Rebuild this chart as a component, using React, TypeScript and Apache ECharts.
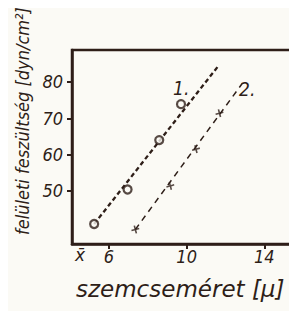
import React, { useEffect, useRef } from "react";
import * as echarts from "echarts";

const xTicks = [6, 10, 14];
const yTicks = [50, 60, 70, 80];
const series1X = [5.24, 6.96, 8.59, 9.71];
const series1Y = [40.9, 50.4, 64.0, 73.9];
const series2X = [7.36, 9.16, 10.48, 11.69];
const series2Y = [39.4, 51.4, 61.5, 71.4];
const fit1 = [[5.24, 40.9], [11.6, 84.2]];
const fit2 = [[7.36, 39.4], [12.85, 79.5]];
const lineLabels = [{ name: "1.", coord: [9.72, 78.3] }, { name: "2.", coord: [13.12, 78.1] }];

const INK = "#2e1e18";
const FONT = "'DejaVu Sans', sans-serif";
const FONT_C = "'DejaVu Sans Condensed', 'DejaVu Sans', sans-serif";

export default function App() {
  const ref = useRef<HTMLDivElement>(null);
  useEffect(() => {
    if (!ref.current) return;
    const chart = echarts.init(ref.current, null, { renderer: "svg" });
    chart.setOption({
      animation: false,
      backgroundColor: "#fbfaf5",
      grid: {
        left: 72,
        top: 50,
        bottom: 67,
        right: 0,
        show: true,
        borderColor: INK,
        borderWidth: 2.5,
        backgroundColor: "transparent",
      },
      xAxis: {
        type: "value",
        min: 4.1,
        max: 18.15,
        splitLine: { show: false },
        axisLine: { show: true, lineStyle: { color: INK, width: 2.5 } },
        axisTick: { show: true, customValues: xTicks, length: 5, inside: false, lineStyle: { color: INK, width: 2 } },
        axisLabel: {
          customValues: xTicks,
          color: INK,
          fontSize: 18,
          fontStyle: "italic",
          fontFamily: FONT_C,
          margin: 3,
        },
        name: "szemcseméret [μ]",
        nameLocation: "start",
        nameGap: 0,
        nameTextStyle: {
          color: INK,
          fontSize: 23,
          fontStyle: "italic",
          fontFamily: FONT,
          align: "left",
          verticalAlign: "top",
          padding: [33, 0, 0, 4],
        },
      },
      yAxis: {
        type: "value",
        min: 35.4,
        max: 88.8,
        splitLine: { show: false },
        axisLine: { show: true, lineStyle: { color: INK, width: 2.5 } },
        axisTick: { show: true, customValues: yTicks, length: 5, inside: false, lineStyle: { color: INK, width: 2 } },
        axisLabel: {
          customValues: yTicks,
          color: INK,
          fontSize: 18,
          fontStyle: "italic",
          fontFamily: FONT_C,
          margin: 9,
        },
      },
      graphic: [
        {
          type: "text",
          left: 75,
          top: 246,
          style: { text: "x\u0304", fill: INK, fontSize: 17, fontStyle: "italic", fontFamily: FONT },
        },
        {
          type: "text",
          x: 22,
          y: 121,
          rotation: Math.PI / 2,
          style: {
            text: "felületi feszültség [dyn/cm²]",
            fill: INK,
            fontSize: 18,
            fontStyle: "italic",
            fontFamily: FONT_C,
            align: "center",
            verticalAlign: "middle",
          },
        },
      ],
      series: [
        {
          type: "line",
          data: fit1,
          symbol: "none",
          lineStyle: { color: INK, width: 2.3, type: [4.5, 3] },
          z: 2,
          markPoint: {
            symbol: "circle",
            symbolSize: 0,
            data: [{ name: lineLabels[0].name, coord: lineLabels[0].coord }],
            label: {
              show: true,
              formatter: "{b}",
              color: INK,
              fontSize: 19,
              fontStyle: "italic",
              fontFamily: FONT_C,
            },
          },
        },
        {
          type: "line",
          data: fit2,
          symbol: "none",
          lineStyle: { color: INK, width: 1.5, type: [6, 5] },
          z: 2,
          markPoint: {
            symbol: "circle",
            symbolSize: 0,
            data: [{ name: lineLabels[1].name, coord: lineLabels[1].coord }],
            label: {
              show: true,
              formatter: "{b}",
              color: INK,
              fontSize: 19,
              fontStyle: "italic",
              fontFamily: FONT_C,
            },
          },
        },
        {
          type: "scatter",
          data: series1X.map((x, i) => [x, series1Y[i]]),
          symbol: "circle",
          symbolSize: 8,
          itemStyle: { color: "#fbfaf5", borderColor: INK, borderWidth: 2.2 },
          z: 3,
        },
        {
          type: "scatter",
          data: series2X.map((x, i) => [x, series2Y[i]]),
          symbol: "path://M4,0 L6,0 L6,4 L10,4 L10,6 L6,6 L6,10 L4,10 L4,6 L0,6 L0,4 L4,4 Z",
          symbolSize: 8,
          symbolRotate: 15,
          itemStyle: { color: INK },
          z: 3,
        },
      ],
    });
    return () => chart.dispose();
  }, []);
  return (
    <div style={{ width: 297, height: 311, overflow: "hidden", marginLeft: -8, marginTop: -8 }}>
      <div ref={ref} style={{ width: 345, height: 311 }} />
    </div>
  );
}
